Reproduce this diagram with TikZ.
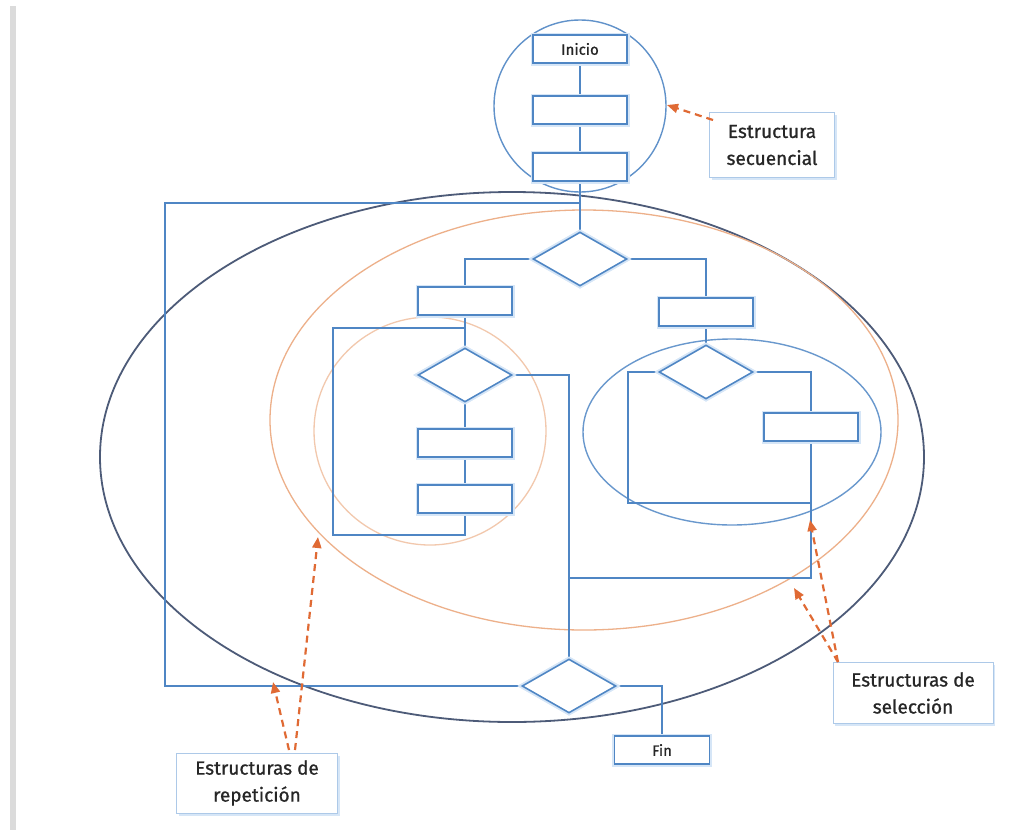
\documentclass[tikz,border=0pt]{standalone}
\usepackage{fontspec}
\setmainfont{Fira Sans}
\newfontfamily\labelfont{Fira Sans}[FakeBold=0.9]
\usetikzlibrary{shapes.geometric,arrows.meta,shadows}
\definecolor{flow}{HTML}{4F86C4}
\definecolor{glow}{HTML}{D6E6F7}
\definecolor{navy}{HTML}{4D5B78}
\definecolor{peach}{HTML}{EDB08A}
\definecolor{callout}{HTML}{E06A34}
\definecolor{ink}{HTML}{262626}
\tikzset{
  procbox/.style={draw=flow, line width=1.6pt, fill=white, minimum width=94pt,
    minimum height=28pt, inner sep=0pt, font=\labelfont\fontsize{15}{17}\selectfont\color{ink},
    preaction={draw=glow, line width=5pt}},
  decision/.style={diamond, draw=flow, line width=1.6pt, fill=white, minimum width=94pt,
    minimum height=54pt, inner sep=0pt, preaction={draw=glow, line width=5pt}},
  wire/.style={draw=flow, line width=1.6pt},
  seqring/.style={draw=flow!90!white, line width=1.4pt},
  selring/.style={draw=flow!85!white, line width=1.4pt},
  repring/.style={draw=peach, line width=1.3pt},
  outerring/.style={draw=navy, line width=1.8pt},
  tag/.style={draw=glow!70!flow, line width=0.6pt, fill=white, align=center,
    inner sep=0pt, font=\labelfont\fontsize{19}{27}\selectfont\color{ink},
    drop shadow={shadow xshift=2pt, shadow yshift=-2.5pt, fill=glow, opacity=1}},
  pointer/.style={draw=callout, line width=2.2pt, dash pattern=on 7pt off 5pt,
    -{Triangle[length=11pt,width=9pt]}}
}
\begin{document}
\begin{tikzpicture}[x=1pt,y=-1pt]
\useasboundingbox (0,0) rectangle (1014,830);
\fill[white] (0,0) rectangle (1014,830);
% page edge on the left
\fill[black!14] (10,6) rectangle (16,830);

% grouping rings
\draw[outerring] (512,457) ellipse [x radius=412, y radius=265];
\draw[repring] (584,420) ellipse [x radius=314, y radius=210];
\draw[repring, draw=peach!70] (430,431) ellipse [x radius=116, y radius=114];
\draw[selring] (732,432) ellipse [x radius=149, y radius=93];
\draw[seqring] (580,106) circle [radius=86];

% nodes
\node[procbox] (ini) at (580,49) {Inicio};
\node[procbox] (s1) at (580,110) {};
\node[procbox] (s2) at (580,167) {};
\node[decision] (d1) at (580,259) {};
\node[procbox] (l1) at (465,301) {};
\node[decision] (d2) at (465,375) {};
\node[procbox] (l2) at (465,443) {};
\node[procbox] (l3) at (465,499) {};
\node[procbox] (r1) at (706,312) {};
\node[decision] (d3) at (706,372) {};
\node[procbox] (r2) at (811,427) {};
\node[decision] (d5) at (569,686) {};
\node[procbox, minimum width=95pt] (fin) at (662,750) {Fin};

% junction points of the flow lines
\coordinate (jtop) at (580,203);
\coordinate (loopTL) at (165,203);
\coordinate (loopBL) at (165,686);
\coordinate (ljoin) at (465,328);
\coordinate (lTL) at (333,328);
\coordinate (lBL) at (333,535);
\coordinate (lBR) at (465,535);
\coordinate (mTop) at (569,375);
\coordinate (mJoin) at (569,578);
\coordinate (rBR) at (811,578);
\coordinate (rTL) at (628,372);
\coordinate (rBL) at (628,503);
\coordinate (rMid) at (811,503);
\coordinate (rTR) at (811,372);

% flow lines
\draw[wire] (ini) -- (s1);
\draw[wire] (s1) -- (s2);
\draw[wire] (s2) -- (d1);
\draw[wire] (d5.west) -- (loopBL) -- (loopTL) -- (jtop);
\draw[wire] (d1.west) -| (l1.north);
\draw[wire] (d1.east) -| (r1.north);
\draw[wire] (l1) -- (d2);
\draw[wire] (d2) -- (l2);
\draw[wire] (l2) -- (l3);
\draw[wire] (l3.south) -- (lBR) -- (lBL) -- (lTL) -- (ljoin);
\draw[wire] (d2.east) -- (mTop) -- (d5.north);
\draw[wire] (r1) -- (d3);
\draw[wire] (d3.east) -- (rTR) -- (r2.north);
\draw[wire] (r2.south) -- (rBR) -- (mJoin);
\draw[wire] (d3.west) -- (rTL) -- (rBL) -- (rMid);
\draw[wire] (d5.east) -| (fin.north);

% redraw the shapes on top of the wires
\node[procbox] at (ini) {Inicio};
\node[procbox] at (s1) {};
\node[procbox] at (s2) {};
\node[decision] at (d1) {};
\node[procbox] at (l1) {};
\node[decision] at (d2) {};
\node[procbox] at (l2) {};
\node[procbox] at (l3) {};
\node[procbox] at (r1) {};
\node[decision] at (d3) {};
\node[procbox] at (r2) {};
\node[decision] at (d5) {};
\node[procbox, minimum width=95pt] at (fin) {Fin};

% callouts
\node[tag, minimum width=125pt, minimum height=65pt] (tseq) at (772,145) {Estructura\\secuencial};
\node[tag, minimum width=160pt, minimum height=61pt] (tsel) at (913,693) {Estructuras de\\selección};
\node[tag, minimum width=161pt, minimum height=60pt] (trep) at (257,783) {Estructuras de\\repetición};

\coordinate (seqFrom) at (713,120);
\coordinate (seqTo) at (667,105);
\coordinate (selFrom) at (838,662);
\coordinate (selToA) at (810,520);
\coordinate (selToB) at (794,588);
\coordinate (repFromA) at (289,750);
\coordinate (repFromB) at (295,750);
\coordinate (repToA) at (273,682);
\coordinate (repToB) at (318,537);

\draw[pointer] (seqFrom) -- (seqTo);
\draw[pointer] (selFrom) -- (selToA);
\draw[pointer] (selFrom) -- (selToB);
\draw[pointer] (repFromA) -- (repToA);
\draw[pointer] (repFromB) -- (repToB);
\end{tikzpicture}
\end{document}
